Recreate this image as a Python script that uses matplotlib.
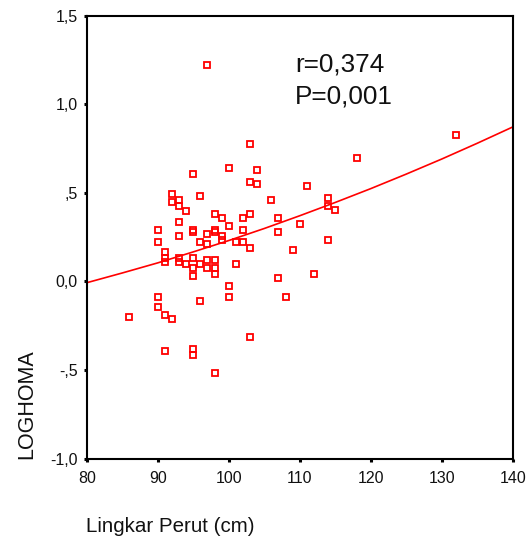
import matplotlib
matplotlib.use("Agg")
import matplotlib.pyplot as plt

plt.rcParams['font.family'] = ['Liberation Sans', 'DejaVu Sans']

# Data: waist circumference (cm) vs LOGHOMA
lingkar_perut = [86,
                 90, 90, 90, 90,
                 91, 91, 91, 91, 91,
                 92, 92, 92,
                 93, 93, 93, 93, 93, 93,
                 94, 94,
                 95, 95, 95, 95, 95, 95, 95, 95,
                 96, 96, 96, 96,
                 97, 97, 97, 97, 97,
                 98, 98, 98, 98, 98, 98, 98,
                 99, 99, 99,
                 100, 100, 100, 100,
                 101, 101,
                 102, 102, 102,
                 103, 103, 103, 103, 103,
                 104, 104,
                 106,
                 107, 107, 107,
                 108, 109, 110, 111, 112,
                 114, 114, 114,
                 115, 118, 132]
loghoma = [-0.199,
           0.290, 0.222, -0.085, -0.142,
           0.165, 0.130, 0.108, -0.187, -0.392,
           0.494, 0.449, -0.210,
           0.460, 0.426, 0.335, 0.256, 0.131, 0.108,
           0.400, 0.097,
           0.608, 0.290, 0.279, 0.131, 0.074, 0.029, -0.381, -0.415,
           0.483, 0.222, 0.097, -0.112,
           1.222, 0.267, 0.210, 0.119, 0.074,
           0.381, 0.290, 0.279, 0.119, 0.074, 0.040, -0.517,
           0.358, 0.256, 0.233,
           0.642, 0.313, -0.028, -0.085,
           0.222, 0.097,
           0.358, 0.290, 0.222,
           0.777, 0.563, 0.381, 0.188, -0.312,
           0.631, 0.551,
           0.460,
           0.358, 0.279, 0.017,
           -0.085, 0.176, 0.324, 0.540, 0.040,
           0.472, 0.426, 0.233,
           0.404, 0.699, 0.824]

# Fit line
fit_x = [80, 85, 90, 95, 100, 105, 110, 115, 120, 125, 130, 135, 140]
fit_y = [-0.007, 0.048, 0.105, 0.167, 0.231, 0.299, 0.371, 0.446, 0.524,
         0.606, 0.691, 0.780, 0.872]

xticks = [80, 90, 100, 110, 120, 130, 140]
xtick_labels = ['80', '90', '100', '110', '120', '130', '140']
yticks = [-1.0, -0.5, 0.0, 0.5, 1.0, 1.5]
ytick_labels = ['-1,0', '-,5', '0,0', ',5', '1,0', '1,5']

W, H = 528, 538
fig = plt.figure(figsize=(W / 100, H / 100), dpi=100)
ax = fig.add_axes([86.7 / W, 1 - 458.7 / H, (512.7 - 86.7) / W, (458.7 - 15.7) / H])

ax.plot(fit_x, fit_y, color='#ff0000', lw=1.2, zorder=2)
ax.plot(lingkar_perut, loghoma, linestyle='none', marker='s', markersize=4.4,
        markerfacecolor='none', markeredgecolor='#ff0000', markeredgewidth=1.3,
        zorder=3)

ax.set_xlim(80, 140)
ax.set_ylim(-1.0, 1.5)
ax.set_xticks(xticks)
ax.set_xticklabels(xtick_labels)
ax.set_yticks(yticks)
ax.set_yticklabels(ytick_labels)

for s in ax.spines.values():
    s.set_linewidth(1.5)
    s.set_color('black')

ax.tick_params(axis='both', direction='out', length=2.5, width=2.2, color='black',
               labelsize=11.5, labelcolor='#111111')
ax.tick_params(axis='x', pad=6.5)
ax.tick_params(axis='y', pad=4)

ax.text(0.489, 0.8736, 'r=0,374', transform=ax.transAxes, fontsize=18.8,
        ha='left', va='baseline', color='#111111')
ax.text(0.489, 0.8007, 'P=0,001', transform=ax.transAxes, fontsize=18.8,
        ha='left', va='baseline', color='#111111')

fig.text(86 / W, 1 - 531.7 / H, 'Lingkar Perut (cm)', fontsize=14.8,
         ha='left', va='baseline', color='#111111')
fig.text(27 / W, 1 - 458.7 / H, 'LOGHOMA', fontsize=15.5, rotation=90,
         ha='center', va='bottom', color='#111111')

fig.savefig('out.png', dpi=100)
